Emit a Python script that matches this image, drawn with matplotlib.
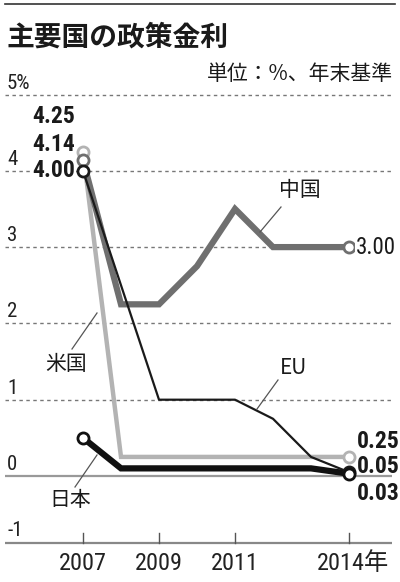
import matplotlib
matplotlib.use('Agg')
import matplotlib.pyplot as plt
from matplotlib.lines import Line2D

plt.rcParams['font.family'] = ['Noto Sans CJK JP', 'DejaVu Sans']
NUM = ['Roboto Condensed', 'Liberation Sans', 'DejaVu Sans']
NUM_JP = ['Roboto Condensed', 'Noto Sans CJK JP', 'DejaVu Sans']

# data (year-end policy rates, %)
years = [2007, 2008, 2009, 2010, 2011, 2012, 2013, 2014]
us = [4.25, 0.25, 0.25, 0.25, 0.25, 0.25, 0.25, 0.25]
china = [4.14, 2.25, 2.25, 2.75, 3.50, 3.00, 3.00, 3.00]
eu = [4.00, 2.50, 1.00, 1.00, 1.00, 0.75, 0.25, 0.05]
japan = [0.50, 0.10, 0.10, 0.10, 0.10, 0.10, 0.10, 0.03]

yticks = [5, 4, 3, 2, 1, 0]
ytick_labels = ['5%', '4', '3', '2', '1', '0']
floor_label = '-1'
xticks = [2007, 2009, 2011, 2014]
xtick_labels = ['2007', '2009', '2011', '2014年']

W, H = 400, 582
fig = plt.figure(figsize=(W / 100, H / 100), dpi=100)

# axes placed in pixels: x 5..392, y 90..545
ax = fig.add_axes([5 / W, (H - 545) / H, 387 / W, 455 / H])
ax.set_xlim(2007 - 78 / 38, 2007 + 309 / 38)
ax.set_ylim((476 - 545) / 76.3, (476 - 90) / 76.3)
ax.axis('off')
floor = (476 - 543) / 76.3

def fx(px):
    return px / W

def fy(py):
    return 1 - py / H

# frame, title
fig.add_artist(Line2D([fx(5), fx(395)], [fy(4), fy(4)], color='#333333', lw=1.2))
fig.text(fx(7), fy(38), '主要国の政策金利', fontsize=20, fontweight='bold',
         va='center', ha='left', color='#1a1a1a')
fig.text(fx(393), fy(74), '単位：%、年末基準', fontsize=15, va='center', ha='right',
         color='#1a1a1a')

# grid
for v in yticks[:-1]:
    ax.axhline(v, color='#777777', lw=1, ls=(0, (2.5, 2.5)), zorder=1)
ax.axhline(0, color='#999999', lw=1.6, zorder=1)
ax.axhline(floor, color='#888888', lw=1.6, zorder=1)
for t in xticks:
    ax.plot([t, t], [floor, floor + 0.13], color='#555555', lw=1, zorder=1)

for v, s in zip(yticks, ytick_labels):
    ax.annotate(s, xy=(0, v), xycoords=('axes fraction', 'data'), xytext=(2, 2),
                textcoords='offset pixels', ha='left', va='bottom', fontsize=15,
                family=NUM, color='#222222')
ax.annotate(floor_label, xy=(0, floor), xycoords=('axes fraction', 'data'), xytext=(2, 3),
            textcoords='offset pixels', ha='left', va='bottom', fontsize=15,
            family=NUM, color='#222222')
for t, s in zip(xticks, xtick_labels):
    ax.annotate(s, xy=(t, floor), xytext=(0 if t != 2014 else 4, -20),
                textcoords='offset pixels', ha='center', va='center', fontsize=17.5,
                family=NUM_JP, color='#222222')

# series
ax.plot(years, us, color='#b3b3b3', lw=3.2, zorder=3, solid_joinstyle='miter')
ax.plot(years, china, color='#6f6f6f', lw=4.5, zorder=4, solid_joinstyle='miter')
ax.plot(years, eu, color='#1a1a1a', lw=1.6, zorder=5)
ax.plot(years, japan, color='#111111', lw=4.5, zorder=6, solid_joinstyle='miter')

mk = dict(marker='o', ms=8, mfc='white', mew=2, ls='none')
ax.plot([years[0], years[-1]], [us[0], us[-1]], mec='#b3b3b3', zorder=7, **mk)
ax.plot([years[0], years[-1]], [china[0], china[-1]], mec='#6f6f6f', zorder=7, **mk)
ax.plot([years[0], years[-1]], [eu[0], eu[-1]], mec='#1a1a1a', zorder=8, **mk)
ax.plot([years[0], years[-1]], [japan[0], japan[-1]], mec='#111111', zorder=8, **mk)

# value labels
bb = dict(facecolor='white', edgecolor='none', pad=1)
for v, dy in [(us[0], 35), (china[0], 16), (eu[0], 0)]:
    ax.annotate(f'{v:.2f}', xy=(years[0], v), xytext=(-8, dy), textcoords='offset pixels',
                ha='right', va='center', fontsize=17, fontweight='bold', family=NUM,
                color='#1a1a1a', bbox=bb, zorder=9)
ax.annotate(f'{china[-1]:.2f}', xy=(years[-1], china[-1]), xytext=(7, 0),
            textcoords='offset pixels', ha='left', va='center', fontsize=16.5, family=NUM,
            color='#1a1a1a', bbox=bb, zorder=9)
for v, dy in [(us[-1], 15), (eu[-1], 6), (japan[-1], -20)]:
    ax.annotate(f'{v:.2f}', xy=(years[-1], v), xytext=(8, dy), textcoords='offset pixels',
                ha='left', va='center', fontsize=17, fontweight='bold', family=NUM,
                color='#1a1a1a', zorder=9)

# series names with leader lines (pixel positions)
names = [('中国', (300, 190), (260, 232), (281, 207)),
         ('EU', (293, 368), (257, 409), (278, 380)),
         ('米国', (66, 364), (72, 349), (97, 313)),
         ('日本', (70, 500), (75, 487), (97, 455))]
for s, (tx, ty), (x1, y1), (x2, y2) in names:
    fig.text(fx(tx), fy(ty), s, fontsize=15, ha='center', va='center', color='#1a1a1a',
             family=['Noto Sans CJK JP', 'DejaVu Sans'])
    fig.add_artist(Line2D([fx(x1), fx(x2)], [fy(y1), fy(y2)], color='#555555', lw=0.9))

fig.savefig('out.png', dpi=100)
